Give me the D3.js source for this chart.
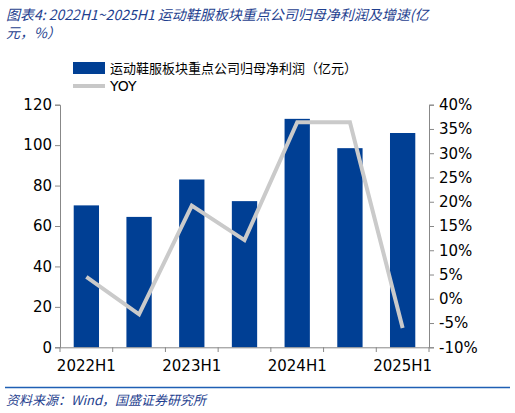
<!DOCTYPE html><html><head><meta charset="utf-8"><script src="https://cdn.jsdelivr.net/npm/d3@7"></script>
<style>body{margin:0;background:#fff}text{font-family:Tahoma,"DejaVu Sans","Noto Sans CJK SC",sans-serif}</style></head><body><svg id="c" width="515" height="413"></svg>
<script>
const categories=["2022H1","2022H2","2023H1","2023H2","2024H1","2024H2","2025H1"];
const profit=[70.2,64.5,83,72.3,113,98.5,106];
const yoy=[4.5,-3.2,19.2,12.1,36.4,36.4,-6.0];
const leftTicks=[0,20,40,60,80,100,120];
const rightTicks=[-10,-5,0,5,10,15,20,25,30,35,40];
const shownLabels=["2022H1","2023H1","2024H1","2025H1"];
const svg=d3.select("#c");
const x=d3.scaleBand().domain(categories).range([60,429]).paddingInner(0.52).paddingOuter(0.26);
const yL=d3.scaleLinear().domain([0,120]).range([347.3,104.7]);
const yR=d3.scaleLinear().domain([-10,40]).range([347.3,104.7]);
const cjk='"Noto Sans CJK SC",sans-serif';
svg.append("text").attr("x",6).attr("y",20).attr("fill","#1f3f8f").attr("font-size",14).attr("font-style","italic").style("font-family",cjk).text("图表4:  2022H1~2025H1 运动鞋服板块重点公司归母净利润及增速(亿");
svg.append("text").attr("x",6).attr("y",38).attr("fill","#1f3f8f").attr("font-size",14).attr("font-style","italic").style("font-family",cjk).text("元，%）");
svg.append("rect").attr("x",73).attr("y",62).attr("width",32).attr("height",12).attr("fill","#003f94");
svg.append("text").attr("x",110).attr("y",73).attr("font-size",13).style("font-family",cjk).text("运动鞋服板块重点公司归母净利润（亿元）");
svg.append("line").attr("x1",73).attr("x2",105).attr("y1",86).attr("y2",86).attr("stroke","#c8c8c8").attr("stroke-width",4);
svg.append("text").attr("x",110).attr("y",91).attr("font-size",14).text("YOY");
svg.selectAll("rect.b").data(profit).enter().append("rect").attr("class","b")
 .attr("x",(d,i)=>x(categories[i])).attr("width",x.bandwidth()).attr("y",d=>yL(d)).attr("height",d=>yL(0)-yL(d)).attr("fill","#003f94");
const step=x.step();
const gL=svg.append("g").attr("transform","translate(60,0)").call(d3.axisLeft(yL).tickValues(leftTicks).tickSize(5));
const gR=svg.append("g").attr("transform","translate(429,0)").call(d3.axisRight(yR).tickValues(rightTicks).tickSize(5).tickFormat(d=>d+"%"));
const gB=svg.append("g").attr("transform","translate(0,347.3)").call(d3.axisBottom(x).tickSize(0).tickFormat(d=>shownLabels.includes(d)?d:""));
[gL,gR,gB].forEach(g=>{g.selectAll("path").attr("stroke","#888");g.selectAll("line").attr("stroke","#888");g.selectAll("text").attr("font-size",15).attr("fill","#000")});
gB.selectAll("text").attr("dy","1.4em");
gR.selectAll("text").attr("dx","2");
svg.append("g").selectAll("line").data(d3.range(categories.length+1)).enter().append("line")
 .attr("x1",i=>60+i*step).attr("x2",i=>60+i*step).attr("y1",347.3).attr("y2",352).attr("stroke","#888");
svg.append("path").datum(yoy).attr("fill","none").attr("stroke","#cacaca").attr("stroke-width",4)
 .attr("d",d3.line().x((d,i)=>x(categories[i])+x.bandwidth()/2).y(d=>yR(d)));
svg.append("line").attr("x1",5).attr("x2",510).attr("y1",387.5).attr("y2",387.5).attr("stroke","#1f5fb4").attr("stroke-width",1.5);
svg.append("text").attr("x",6).attr("y",405).attr("fill","#1f3f8f").attr("font-size",13).attr("font-style","italic").style("font-family",cjk).text("资料来源：Wind，国盛证券研究所");
</script></body></html>
